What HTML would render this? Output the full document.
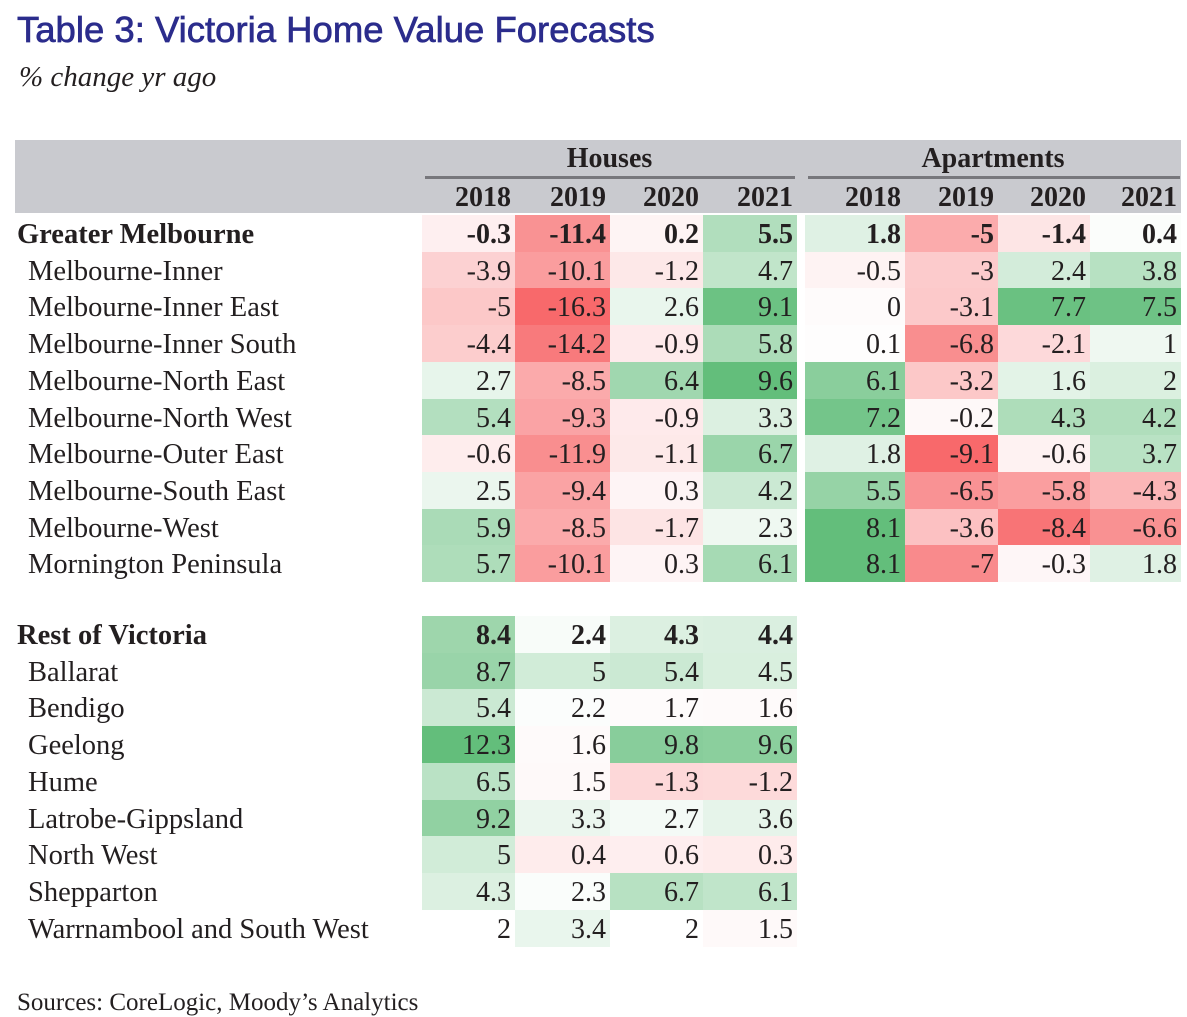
<!DOCTYPE html>
<html><head><meta charset="utf-8">
<style>
body{margin:0;width:1187px;height:1009px;background:#fff;position:relative;overflow:hidden;font-family:"Liberation Serif",serif;color:#231f20}
.abs{position:absolute}
#title{left:17px;top:9px;font-family:"Liberation Sans",sans-serif;font-size:36.5px;color:#2b2c8c;-webkit-text-stroke:0.7px #2b2c8c;white-space:nowrap}
#sub{left:19px;top:61px;font-size:29px;font-style:italic}
.cell{position:absolute;text-align:right;font-size:28px;box-sizing:border-box;padding-right:4px;line-height:37px;height:37px}
.lab{position:absolute;font-size:28.5px;line-height:37px;white-space:nowrap}
.b{font-weight:bold}
</style></head><body>
<div id="title" class="abs">Table 3: Victoria Home Value Forecasts</div>
<div id="sub" class="abs">% change yr ago</div>
<div class="abs" style="left:15px;top:140px;width:1166px;height:73px;background:#c9cacf"></div>
<div class="abs b" style="left:422px;top:143px;width:375px;text-align:center;font-size:28px">Houses</div>
<div class="abs" style="left:425px;top:176px;width:370px;height:3px;background:#77777c"></div>
<div class="abs b" style="left:805px;top:143px;width:376px;text-align:center;font-size:28px">Apartments</div>
<div class="abs" style="left:808px;top:176px;width:372px;height:3px;background:#77777c"></div>
<div class="abs" style="left:17px;top:989px;font-size:25px">Sources: CoreLogic, Moody’s Analytics</div>
<div id="tbl"></div>
<script>
const years=["2018","2019","2020","2021"];
const melRegions=["Greater Melbourne","Melbourne-Inner","Melbourne-Inner East","Melbourne-Inner South","Melbourne-North East","Melbourne-North West","Melbourne-Outer East","Melbourne-South East","Melbourne-West","Mornington Peninsula"];
const melHouses=[[-0.3,-11.4,0.2,5.5],[-3.9,-10.1,-1.2,4.7],[-5,-16.3,2.6,9.1],[-4.4,-14.2,-0.9,5.8],[2.7,-8.5,6.4,9.6],[5.4,-9.3,-0.9,3.3],[-0.6,-11.9,-1.1,6.7],[2.5,-9.4,0.3,4.2],[5.9,-8.5,-1.7,2.3],[5.7,-10.1,0.3,6.1]];
const melApts=[[1.8,-5,-1.4,0.4],[-0.5,-3,2.4,3.8],[0,-3.1,7.7,7.5],[0.1,-6.8,-2.1,1],[6.1,-3.2,1.6,2],[7.2,-0.2,4.3,4.2],[1.8,-9.1,-0.6,3.7],[5.5,-6.5,-5.8,-4.3],[8.1,-3.6,-8.4,-6.6],[8.1,-7,-0.3,1.8]];
const restRegions=["Rest of Victoria","Ballarat","Bendigo","Geelong","Hume","Latrobe-Gippsland","North West","Shepparton","Warrnambool and South West"];
const restHouses=[[8.4,2.4,4.3,4.4],[8.7,5,5.4,4.5],[5.4,2.2,1.7,1.6],[12.3,1.6,9.8,9.6],[6.5,1.5,-1.3,-1.2],[9.2,3.3,2.7,3.6],[5,0.4,0.6,0.3],[4.3,2.3,6.7,6.1],[2,3.4,2,1.5]];

function col(v,mid,negR,posR){
  let r,g,b,t;
  if(v>=mid){t=Math.min(1,(v-mid)/posR);r=255+(99-255)*t;g=255+(190-255)*t;b=255+(123-255)*t;}
  else{t=Math.min(1,(mid-v)/negR);r=255+(248-255)*t;g=255+(105-255)*t;b=255+(107-255)*t;}
  return `rgb(${r|0},${g|0},${b|0})`;
}
const tbl=document.getElementById('tbl');
const rowH=36.7;
function label(txt,y,bold){
  const d=document.createElement('div');
  d.className='lab'+(bold?' b':'');
  d.style.left=(bold?17:28)+'px';d.style.top=y+'px';d.textContent=txt;
  
  
  tbl.appendChild(d);
}
function cell(v,x,w,y,bg,bold){
  const d=document.createElement('div');
  d.className='cell'+(bold?' b':'');
  d.style.left=x+'px';d.style.top=y+'px';d.style.width=w+'px';d.style.background=bg;
  d.style.lineHeight='40px';
  d.textContent=String(v);
  
  
  tbl.appendChild(d);
}
const hx=[422,515,610,703],ax=[805,905,998,1090],cw=[93,95,93,94],aw=[100,93,92,91];
years.forEach((yr,i)=>{
  const d=document.createElement('div');d.className='cell b';d.style.left=hx[i]+'px';d.style.top='179px';d.style.width=cw[i]+'px';d.textContent=yr;
  
  
  tbl.appendChild(d);
  const e=document.createElement('div');e.className='cell b';e.style.left=ax[i]+'px';e.style.top='179px';e.style.width=aw[i]+'px';e.textContent=yr;
  
  
  tbl.appendChild(e);
});
melRegions.forEach((nm,r)=>{
  const y=215+r*rowH;
  label(nm,y+1,r===0);
  melHouses[r].forEach((v,i)=>cell(v,hx[i],cw[i],y,col(v,1.5,17.8,8.1),r===0));
  melApts[r].forEach((v,i)=>cell(v,ax[i],aw[i],y,col(v,0.2,9.3,7.9),r===0));
});
restRegions.forEach((nm,r)=>{
  const y=616+r*rowH;
  label(nm,y+1,r===0);
  restHouses[r].forEach((v,i)=>cell(v,hx[i],cw[i],y,col(v,2,13,10.3),r===0));
});
</script>
</body></html>
